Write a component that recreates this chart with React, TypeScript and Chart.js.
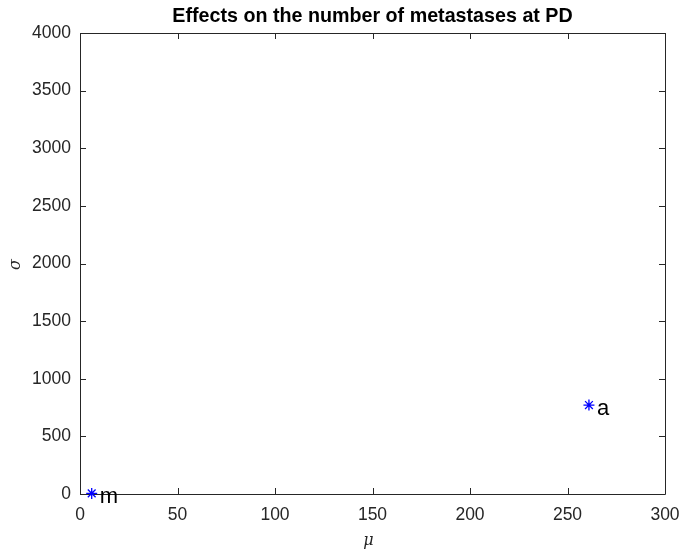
import React, { useEffect, useRef } from "react";
import { Chart, registerables } from "chart.js";

Chart.register(...registerables);

const pointLabels = ["m", "a"];
const muValues = [6, 261];
const sigmaValues = [5, 772];
const xTicks = [0, 50, 100, 150, 200, 250, 300];
const yTicks = [0, 500, 1000, 1500, 2000, 2500, 3000, 3500, 4000];
const titleText = "Effects on the number of metastases at PD";
const xLabel = "μ";
const yLabel = "σ";

const AXIS_COLOR = "#262626";
const FONT = "'Liberation Sans', Arial, Helvetica, sans-serif";

const framePlugin = {
  id: "matlabFrame",
  beforeDatasetsDraw(chart: any) {
    const { ctx, chartArea, scales } = chart;
    const { left, right, top, bottom } = chartArea;
    ctx.save();
    ctx.strokeStyle = AXIS_COLOR;
    ctx.lineWidth = 1;
    ctx.beginPath();
    ctx.rect(Math.round(left) + 0.5, Math.round(top) + 0.5, Math.round(right - left), Math.round(bottom - top));
    ctx.stroke();
    const tl = 6;
    ctx.beginPath();
    for (const v of xTicks) {
      const x = Math.round(scales.x.getPixelForValue(v)) + 0.5;
      ctx.moveTo(x, bottom);
      ctx.lineTo(x, bottom - tl);
      ctx.moveTo(x, top);
      ctx.lineTo(x, top + tl);
    }
    for (const v of yTicks) {
      const y = Math.round(scales.y.getPixelForValue(v)) + 0.5;
      ctx.moveTo(left, y);
      ctx.lineTo(left + tl, y);
      ctx.moveTo(right, y);
      ctx.lineTo(right - tl, y);
    }
    ctx.stroke();
    ctx.restore();
  },
  afterDraw(chart: any) {
    const { ctx, chartArea, scales } = chart;
    const { left, right, top, bottom } = chartArea;
    ctx.save();
    // point labels
    ctx.fillStyle = "#000000";
    ctx.font = `22px ${FONT}`;
    ctx.textAlign = "left";
    ctx.textBaseline = "alphabetic";
    pointLabels.forEach((lab, i) => {
      const px = scales.x.getPixelForValue(muValues[i]);
      const py = scales.y.getPixelForValue(sigmaValues[i]);
      ctx.fillText(lab, px + 8, py + 10);
    });

    // title
    ctx.fillStyle = "#000000";
    ctx.font = `bold 19.7px ${FONT}`;
    ctx.textAlign = "center";
    ctx.textBaseline = "middle";
    ctx.fillText(titleText, (left + right) / 2, 17);

    // axis labels
    ctx.fillStyle = AXIS_COLOR;
    ctx.font = `italic 16px 'DejaVu Serif', serif`;
    ctx.fillText(xLabel, (left + right) / 2 - 4, 541);
    ctx.save();
    ctx.translate(16, (top + bottom) / 2 + 1);
    ctx.rotate(-Math.PI / 2);
    ctx.fillText(yLabel, 0, 0);
    ctx.restore();
    ctx.restore();
  },
};

export default function App() {
  const ref = useRef<HTMLCanvasElement | null>(null);
  useEffect(() => {
    const canvas = ref.current;
    if (!canvas) return;
    const chart = new Chart(canvas, {
      type: "scatter",
      data: {
        datasets: [
          {
            data: muValues.map((x, i) => ({ x, y: sigmaValues[i] })),
            pointStyle: "star",
            radius: 5.5,
            borderColor: "#0000ff",
            backgroundColor: "#0000ff",
            borderWidth: 1.3,
            clip: false,
          },
        ],
      },
      options: {
        animation: false,
        responsive: false,
        maintainAspectRatio: false,
        events: [],
        layout: { padding: { top: 33, right: 16, left: 0, bottom: 0 } },
        plugins: { legend: { display: false }, title: { display: false }, tooltip: { enabled: false } },
        scales: {
          x: {
            type: "linear",
            min: 0,
            max: 300,
            afterBuildTicks: (s: any) => {
              s.ticks = xTicks.map((v) => ({ value: v }));
            },
            afterFit: (s: any) => {
              s.height = 58;
              s.paddingLeft = 0;
              s.paddingRight = 0;
            },
            grid: { display: false, drawTicks: false },
            border: { display: false },
            ticks: {
              color: AXIS_COLOR,
              font: { family: FONT, size: 17.5 },
              padding: 11,
              maxRotation: 0,
              callback: (v: any) => String(v),
            },
          },
          y: {
            type: "linear",
            min: 0,
            max: 4000,
            afterBuildTicks: (s: any) => {
              s.ticks = yTicks.map((v) => ({ value: v }));
            },
            afterFit: (s: any) => {
              s.width = 80;
              s.paddingTop = 0;
              s.paddingBottom = 0;
            },
            grid: { display: false, drawTicks: false },
            border: { display: false },
            ticks: {
              color: AXIS_COLOR,
              font: { family: FONT, size: 17.5 },
              padding: 9,
              callback: (v: any) => String(v),
            },
          },
        },
      },
      plugins: [framePlugin],
    });
    return () => chart.destroy();
  }, []);
  return (
    <div style={{ position: "fixed", left: 0, top: 0, width: 681, height: 552, background: "#ffffff" }}>
      <canvas ref={ref} width={681} height={552} style={{ width: 681, height: 552 }} />
    </div>
  );
}
